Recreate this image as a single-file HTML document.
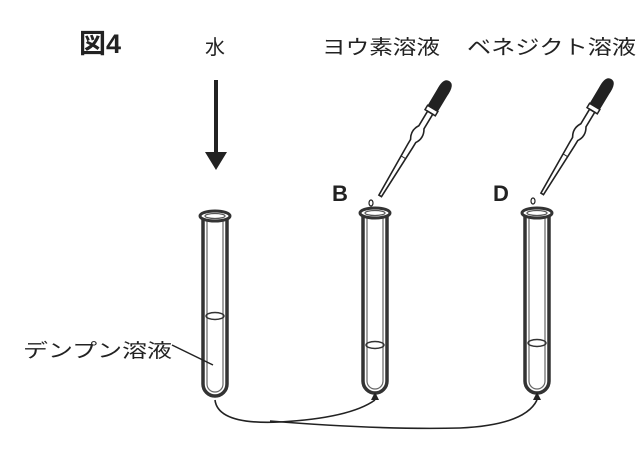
<!DOCTYPE html>
<html><head><meta charset="utf-8"><style>
body{margin:0;background:#fff;}
svg{display:block;}
text{font-family:"Liberation Sans","Noto Sans CJK JP",sans-serif;fill:#222;}
</style></head><body>
<svg width="640" height="455" viewBox="0 0 640 455">
<defs>
<g id="tube">
  <path d="M-12,0 L-12,168 A12,12 0 0 0 12,168 L12,0" fill="none" stroke="#333" stroke-width="3.5"/>
  <path d="M-8,2 L-8,168 A8,8 0 0 0 8,168 L8,2" fill="none" stroke="#666" stroke-width="1.2"/>
  <ellipse cx="0" cy="0" rx="15" ry="5" fill="#fff" stroke="#333" stroke-width="3"/>
  <ellipse cx="0" cy="0" rx="10" ry="2.5" fill="none" stroke="#555" stroke-width="1.2"/>
</g>
<g id="pip">
  <path d="M-6,0 Q-7,-14 0,-14 Q7,-14 6,0 L6,18 L-6,18 Z" fill="#222"/>
  <rect x="-6" y="18" width="12" height="5" fill="#fff" stroke="#222" stroke-width="1.5"/>
  <path d="M-3,23 L-3,40 Q-8,48 -3,56 L-3,62 L-1.5,120 L1.5,120 L3,62 L3,56 Q8,48 3,40 L3,23 Z" fill="#fff" stroke="#222" stroke-width="1.6"/>
  <line x1="-2.5" y1="75" x2="2.5" y2="75" stroke="#222" stroke-width="1"/>
</g>
</defs>
<text x="79" y="53" font-size="27" font-weight="bold">図4</text>
<text x="205" y="54" font-size="20">水</text>
<text x="322" y="54" font-size="20" textLength="118" lengthAdjust="spacingAndGlyphs">ヨウ素溶液</text>
<text x="467" y="54" font-size="20" textLength="169" lengthAdjust="spacingAndGlyphs">ベネジクト溶液</text>
<line x1="216" y1="80" x2="216" y2="155" stroke="#222" stroke-width="4"/>
<polygon points="205,152 227,152 216,170" fill="#222"/>
<text x="332" y="201" font-size="22" font-weight="bold">B</text>
<text x="493" y="201" font-size="22" font-weight="bold">D</text>
<g transform="translate(442,93) rotate(31)"><use href="#pip"/></g>
<ellipse cx="371" cy="203" rx="2" ry="3" fill="none" stroke="#222" stroke-width="1.2"/>
<g transform="translate(604,91) rotate(31)"><use href="#pip"/></g>
<ellipse cx="533" cy="201" rx="2" ry="3" fill="none" stroke="#222" stroke-width="1.2"/>
<use href="#tube" x="215" y="216"/>
<use href="#tube" x="375" y="213"/>
<use href="#tube" x="537" y="213"/>
<ellipse cx="215" cy="316" rx="9" ry="3.5" fill="none" stroke="#333" stroke-width="1.5"/>
<ellipse cx="375" cy="345" rx="9" ry="3.5" fill="none" stroke="#333" stroke-width="1.5"/>
<ellipse cx="537" cy="343" rx="9" ry="3.5" fill="none" stroke="#333" stroke-width="1.5"/>
<text x="23" y="357" font-size="19" textLength="149" lengthAdjust="spacingAndGlyphs">デンプン溶液</text>
<line x1="172" y1="345" x2="213" y2="365" stroke="#222" stroke-width="1.5"/>
<path d="M215,400 Q218,425 280,422 Q350,418 375,400" fill="none" stroke="#222" stroke-width="1.6"/>
<path d="M270,421 Q380,430 460,428 Q525,425 537,400" fill="none" stroke="#222" stroke-width="1.6"/>
<polygon points="371,400 379,400 375,392" fill="#222"/>
<polygon points="533,400 541,400 537,392" fill="#222"/>
</svg>
</body></html>
